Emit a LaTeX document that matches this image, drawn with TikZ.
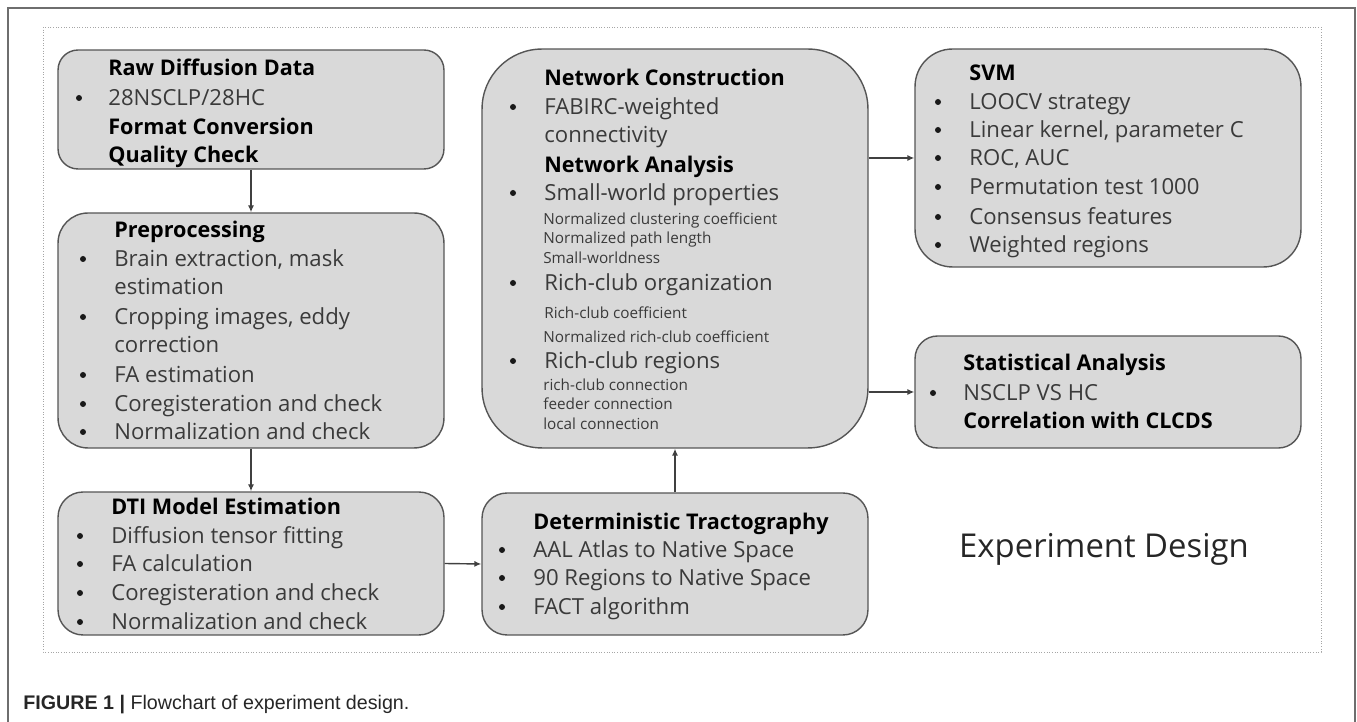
\documentclass[tikz,border=0pt]{standalone}
\usepackage{fontspec}
\setmainfont{Open Sans}
\newfontfamily\captionfont{Liberation Sans}
\usetikzlibrary{arrows.meta}

\definecolor{boxfill}{HTML}{D9D9D9}
\definecolor{boxline}{HTML}{555555}
\definecolor{itemgray}{HTML}{3A3A3A}
\definecolor{framegray}{HTML}{6E6E6E}

\tikzset{
  flowbox/.style={draw=boxline, fill=boxfill, line width=0.8pt, inner sep=0pt, minimum width=7.72cm, rounded corners=#1},
  flowbox/.default=0.4cm,
  headline/.style={anchor=west, inner sep=0pt, text height=8.8pt, text depth=0pt, font=\fontsize{12.3}{14}\selectfont\bfseries, text=black},
  itemline/.style={anchor=west, inner sep=0pt, text height=9pt, text depth=0pt, font=\fontsize{12.6}{14}\selectfont, text=itemgray},
  subline/.style={anchor=west, inner sep=0pt, text height=6.2pt, text depth=0pt, font=\fontsize{8.7}{10}\selectfont, text=itemgray},
  bulletmark/.style={circle, fill=black!90, inner sep=0pt, minimum size=0.12cm},
  flowarrow/.style={-{Latex[length=4pt,width=3.5pt]}, line width=0.8pt, draw=black!75},
}

\begin{document}
\begin{tikzpicture}[x=0.02cm, y=-0.02cm]
	%%%%% START %%%%%
	\useasboundingbox (0,0) rectangle (1357,722);
	
	\draw[framegray, line width=1.1pt] (8,722) -- (8,8) -- (1355,8) -- (1355,722);
	\draw[black!35, densely dotted, line width=0.5pt] (43,27) rectangle (1321,652);
	
	% boxes
	\node[flowbox=0.4cm, minimum height=2.38cm] (raw) at (251,109.5) {};
	\node[flowbox=0.6cm, minimum height=4.7cm] (prep) at (251,330.5) {};
	\node[flowbox=0.5cm, minimum height=2.86cm] (dti) at (251,563.5) {};
	\node[flowbox=0.5cm, minimum height=2.84cm] (tract) at (675,564) {};
	\node[flowbox=1.2cm, minimum height=7.98cm] (net) at (675,248.5) {};
	\node[flowbox=0.75cm, minimum height=4.36cm] (svm) at (1108,158) {};
	\node[flowbox=0.45cm, minimum height=2.24cm] (stat) at (1108,392) {};
	
	% raw data
	\node[headline] (raw1) at (108,68) {Raw Diffusion Data};
	\node[bulletmark] (rawb1) at (79,98) {};
	\node[itemline] (raw2) at (108,98) {28NSCLP/28HC};
	\node[headline] (raw3) at (108,127) {Format Conversion};
	\node[headline] (raw4) at (108,155) {Quality Check};
	
	% preprocessing
	\node[headline] (prep1) at (114,230) {Preprocessing};
	\node[bulletmark] (prepb1) at (83,259) {};
	\node[itemline] (prep2) at (114,259) {Brain extraction, mask};
	\node[itemline] (prep3) at (114,287) {estimation};
	\node[bulletmark] (prepb2) at (83,317) {};
	\node[itemline] (prep4) at (114,317) {Cropping images, eddy};
	\node[itemline] (prep5) at (114,345) {correction};
	\node[bulletmark] (prepb3) at (83,375) {};
	\node[itemline] (prep6) at (114,375) {FA estimation};
	\node[bulletmark] (prepb4) at (83,404) {};
	\node[itemline] (prep7) at (114,404) {Coregisteration and check};
	\node[bulletmark] (prepb5) at (83,432) {};
	\node[itemline] (prep8) at (114,432) {Normalization and check};
	
	% dti model
	\node[headline] (dti1) at (111,507) {DTI Model Estimation};
	\node[bulletmark] (dtib1) at (80,536) {};
	\node[itemline] (dti2) at (111,536) {Diffusion tensor fitting};
	\node[bulletmark] (dtib2) at (80,564) {};
	\node[itemline] (dti3) at (111,564) {FA calculation};
	\node[bulletmark] (dtib3) at (80,593) {};
	\node[itemline] (dti4) at (111,593) {Coregisteration and check};
	\node[bulletmark] (dtib4) at (80,622) {};
	\node[itemline] (dti5) at (111,622) {Normalization and check};
	
	% tractography
	\node[headline] (tract1) at (533,522) {Deterministic Tractography};
	\node[bulletmark] (tractb1) at (502,550) {};
	\node[itemline] (tract2) at (533,550) {AAL Atlas to Native Space};
	\node[bulletmark] (tractb2) at (502,578) {};
	\node[itemline] (tract3) at (533,578) {90 Regions to Native Space};
	\node[bulletmark] (tractb3) at (502,607) {};
	\node[itemline] (tract4) at (533,607) {FACT algorithm};
	
	% network
	\node[headline] (net1) at (544,78) {Network Construction};
	\node[bulletmark] (netb1) at (513,107) {};
	\node[itemline] (net2) at (544,107) {FABIRC-weighted};
	\node[itemline] (net3) at (544,135) {connectivity};
	\node[headline] (net4) at (544,165) {Network Analysis};
	\node[bulletmark] (netb2) at (513,193) {};
	\node[itemline] (net5) at (544,193) {Small-world properties};
	\node[subline] (net6) at (543,219) {Normalized clustering coefficient};
	\node[subline] (net7) at (543,238) {Normalized path length};
	\node[subline] (net8) at (543,258) {Small-worldness};
	\node[bulletmark] (netb3) at (513,283) {};
	\node[itemline] (net9) at (544,283) {Rich-club organization};
	\node[subline] (net10) at (544,313) {Rich-club coefficient};
	\node[subline] (net11) at (543,337) {Normalized rich-club coefficient};
	\node[bulletmark] (netb4) at (513,361) {};
	\node[itemline] (net12) at (544,361) {Rich-club regions};
	\node[subline] (net13) at (543,385) {rich-club connection};
	\node[subline] (net14) at (543,404) {feeder connection};
	\node[subline] (net15) at (543,424) {local connection};
	
	% svm
	\node[headline] (svm1) at (969,73) {SVM};
	\node[bulletmark] (svmb1) at (938,102) {};
	\node[itemline] (svm2) at (969,102) {LOOCV strategy};
	\node[bulletmark] (svmb2) at (938,130) {};
	\node[itemline] (svm3) at (969,130) {Linear kernel, parameter C};
	\node[bulletmark] (svmb3) at (938,158) {};
	\node[itemline] (svm4) at (969,158) {ROC, AUC};
	\node[bulletmark] (svmb4) at (938,187) {};
	\node[itemline] (svm5) at (969,187) {Permutation test 1000};
	\node[bulletmark] (svmb5) at (938,217) {};
	\node[itemline] (svm6) at (969,217) {Consensus features};
	\node[bulletmark] (svmb6) at (938,245) {};
	\node[itemline] (svm7) at (969,245) {Weighted regions};
	
	% statistics
	\node[headline] (stat1) at (963,363) {Statistical Analysis};
	\node[bulletmark] (statb1) at (933,393) {};
	\node[itemline] (stat2) at (963,393) {NSCLP VS HC};
	\node[headline] (stat3) at (963,421) {Correlation with CLCDS};
	
	\node[inner sep=0pt, text height=13.3pt, text depth=0pt, font=\fontsize{18.7}{21}\selectfont, text=black!85] (title) at (1104,545.5) {Experiment Design};
	
	% arrows
	\draw[flowarrow] (raw) -- (prep);
	\draw[flowarrow] (prep) -- (dti);
	\draw[flowarrow] (dti.east) -- (tract.west);
	\draw[flowarrow] (tract) -- (net);
	\draw[flowarrow] (net.east |- svm.west) -- (svm.west);
	\draw[flowarrow] (net.east |- stat.west) -- (stat.west);
	
	\node[anchor=west, inner sep=0pt, text height=8pt, text depth=0pt, font=\captionfont\fontsize{11.2}{13}\selectfont, text=black!85] (caption) at (23,702.5) {\textbf{FIGURE 1 |} Flowchart of experiment design.};
	%%%%% END %%%%%
\end{tikzpicture}
\end{document}
